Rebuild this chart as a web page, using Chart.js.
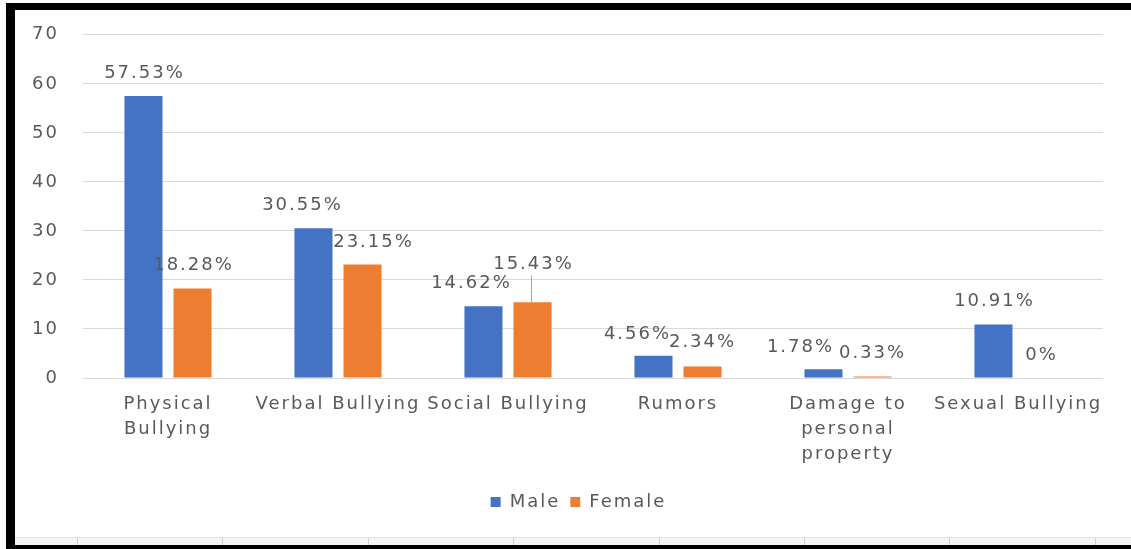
<!DOCTYPE html>
<html>
<head>
<meta charset="utf-8">
<script src="https://cdn.jsdelivr.net/npm/chart.js@4.4.1/dist/chart.umd.min.js"></script>
<style>
  html, body { margin: 0; padding: 0; background: #fff; }
  #wrap { position: relative; width: 1131px; height: 549px; overflow: hidden; }
  #bullying-chart { position: absolute; left: 0; top: 0; }
  /* sheet frame around the pasted chart */
  #frame {
    position: absolute; left: 6px; top: 3px; width: 1125px; height: 546px;
    box-sizing: border-box; pointer-events: none;
    border-left: 9px solid #000; border-top: 7px solid #000; border-bottom: 4px solid #000;
  }
  #strip {
    position: absolute; left: 15px; top: 537px; width: 1116px; height: 8px;
    background-color: #f4f4f4; border-top: 1px solid #e4e4e4; box-sizing: border-box;
    background-image: repeating-linear-gradient(to right, #cfcfcf 0 1px, transparent 1px 145.4px);
    background-position: 62px 0;
  }
</style>
</head>
<body>
<div id="wrap">
  <canvas id="bullying-chart" width="1131" height="549"></canvas>
  <div id="strip"></div>
  <div id="frame"></div>
</div>
<script>
// categories (multi-line labels as arrays)
const categories = [
  ["Physical", "Bullying"],
  "Verbal Bullying",
  "Social Bullying",
  "Rumors",
  ["Damage to", "personal", "property"],
  "Sexual Bullying"
];
const maleValues = [57.53, 30.55, 14.62, 4.56, 1.78, 10.91];
const femaleValues = [18.28, 23.15, 15.43, 2.34, 0.33, 0];

const textGray = "#595959";
const fontFamily = "'DejaVu Sans', sans-serif";
const letterSp = "2px";

// canvas letter spacing, to get the wide look of the original text
// + shift the legend a bit right (it sits off-centre in the original)
const tweaks = {
  id: "tweaks",
  afterInit(chart) {
    chart.ctx.letterSpacing = letterSp;
    const leg = chart.legend;
    if (leg) {
      const orig = leg.draw.bind(leg);
      leg.draw = function (area) {
        chart.ctx.save();
        chart.ctx.translate(27, -1);
        orig(area);
        chart.ctx.restore();
      };
    }
  },
  beforeUpdate(chart) { chart.ctx.letterSpacing = letterSp; },
  beforeDraw(chart) { chart.ctx.letterSpacing = letterSp; }
};

// value labels above the bars (with Excel-like manual nudges)
const barLabels = {
  id: "barLabels",
  afterDatasetsDraw(chart, args, opts) {
    const ctx = chart.ctx;
    ctx.save();
    ctx.font = "18px " + fontFamily;
    ctx.fillStyle = textGray;
    ctx.textAlign = "center";
    ctx.textBaseline = "middle";
    chart.data.datasets.forEach((ds, di) => {
      const meta = chart.getDatasetMeta(di);
      meta.data.forEach((bar, i) => {
        const n = (opts.nudge[di] && opts.nudge[di][i]) || [0, 0];
        const x = bar.x + n[0];
        const y = bar.y - 23 + n[1];
        if (n[2]) {
          ctx.strokeStyle = "#a6a6a6";
          ctx.lineWidth = 1;
          ctx.beginPath();
          ctx.moveTo(Math.round(x - 2) + 0.5, y + 11);
          ctx.lineTo(Math.round(x - 2) + 0.5, bar.y);
          ctx.stroke();
        }
        ctx.fillText(ds.data[i] + "%", x + 1, y);
      });
    });
    ctx.restore();
  }
};

new Chart(document.getElementById("bullying-chart"), {
  type: "bar",
  data: {
    labels: categories,
    datasets: [{
      label: "Male",
      data: maleValues,
      backgroundColor: "#4472C4",
      categoryPercentage: 0.577,
      barPercentage: 0.776
    }, {
      label: "Female",
      data: femaleValues,
      backgroundColor: "#ED7D31",
      categoryPercentage: 0.577,
      barPercentage: 0.776
    }]
  },
  options: {
    responsive: false,
    animation: false,
    layout: { padding: { left: 0, right: 28, top: 31, bottom: 27 } },
    scales: {
      x: {
        grid: { display: false },
        border: { display: false },
        ticks: {
          color: textGray,
          font: { family: fontFamily, size: 18, lineHeight: 1.39 },
          maxRotation: 0,
          autoSkip: false,
          padding: 6
        },
        afterFit(s) { s.height = 106; }
      },
      y: {
        min: 0,
        max: 70,
        ticks: {
          stepSize: 10,
          color: textGray,
          font: { family: fontFamily, size: 18 },
          padding: 24
        },
        grid: { color: "#d9d9d9", drawTicks: false },
        border: { display: false },
        afterFit(s) { s.width = 83; }
      }
    },
    plugins: {
      legend: {
        position: "bottom",
        labels: {
          color: textGray,
          font: { family: fontFamily, size: 18 },
          boxWidth: 10,
          boxHeight: 10,
          padding: 10
        }
      },
      tooltip: { enabled: false },
      barLabels: {
        nudge: [
          [[0, 0], [-12, 0], [-13, 0], [-17, 2], [-24, 1], [0, 0]],
          [[0, 0], [10, 1], [0, -15, 1], [-1, -1], [-1, 0], [-2, 0]]
        ]
      }
    }
  },
  plugins: [tweaks, barLabels]
});
</script>
</body>
</html>
